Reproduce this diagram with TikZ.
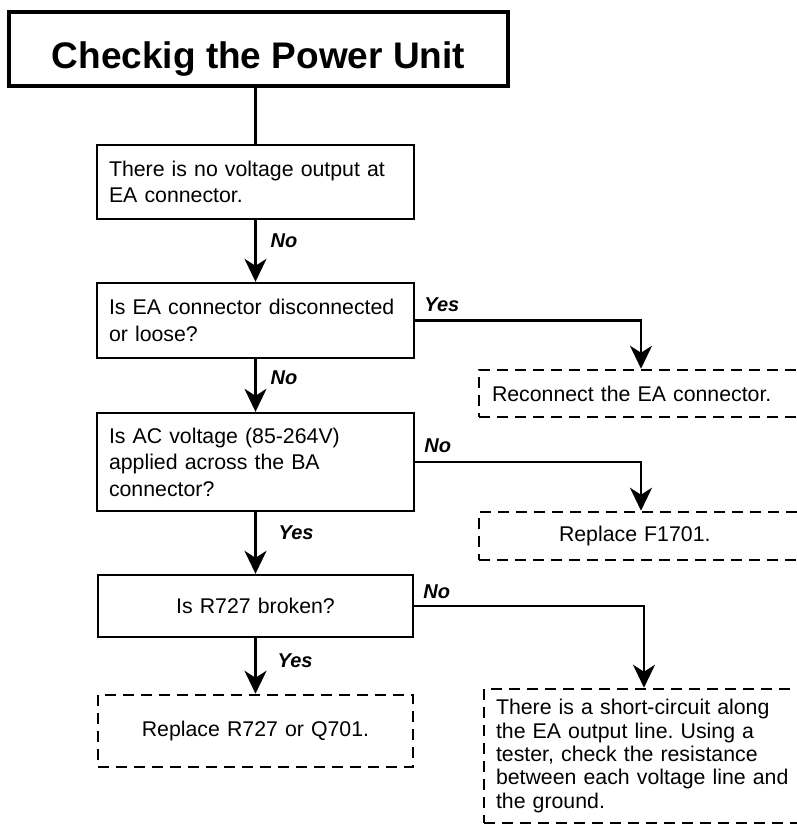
\documentclass[tikz,border=0pt]{standalone}
\usepackage{fontspec}
\setmainfont{Liberation Sans}
\usetikzlibrary{arrows.meta}
\frenchspacing

\begin{document}
\begin{tikzpicture}[
            x=1pt, y=-1pt,
            every node/.style={font=\fontsize{21.3}{26.5}\selectfont},
            titlebox/.style={draw, line width=4.5pt, minimum width=499pt, minimum height=74pt, inner sep=0pt,
                font=\fontsize{37}{44}\selectfont\bfseries, text height=38pt, text depth=0pt},
            testbox/.style={draw, line width=2.4pt, minimum width=317pt, inner xsep=11pt, inner ysep=0pt,
                text width=293pt, align=left},
            fixbox/.style={draw, dashed, dash pattern=on 11pt off 7pt, line width=2.5pt, inner ysep=0pt},
            arrow/.style={-{Stealth[length=23pt, width=22pt, inset=7pt]}, line width=2.4pt},
            lbl/.style={font=\fontsize{20}{24}\selectfont\bfseries\itshape, anchor=west, inner sep=0pt, xshift=14pt},
            blbl/.style={font=\fontsize{20}{24}\selectfont\bfseries\itshape, anchor=south west, inner sep=0pt, xshift=8pt, yshift=8pt}
        ]
        \clip (0,0) rectangle (797,825);

        % Title and the checks down the left
        \node[titlebox] (title) at (258.5,49) {Checkig the Power Unit};
        \node[testbox, minimum height=74pt] (no_out) at (255.5,182) {There is no voltage output at\\EA connector.};
        \node[testbox, minimum height=75pt] (ea_loose) at (255.5,320.5) {Is EA connector disconnected\\or loose?};
        \node[testbox, minimum height=98pt] (ac_in) at (255.5,462) {Is AC voltage (85-264V)\\applied across the BA\\connector?};
        \node[testbox, minimum width=313pt, minimum height=62pt, align=center] (r727) at (255.5,606) {Is R727 broken?};

        % Remedies (dashed)
        \node[fixbox, minimum width=324pt, minimum height=47pt, inner xsep=13pt, text width=298pt, align=left] (reconnect) at (641,393.5) {Reconnect the EA connector.};
        \node[fixbox, minimum width=324pt, minimum height=48pt, inner xsep=80pt, text width=164pt, align=left] (fuse) at (641,536) {Replace F1701.};
        \node[fixbox, minimum width=315pt, minimum height=72pt, inner xsep=10pt, text width=295pt, align=center] (swap_r727) at (255.5,731) {Replace R727 or Q701.};
        \node[fixbox, minimum width=320pt, minimum height=134pt, inner xsep=12pt, text width=296pt, align=left,
            font=\fontsize{21.3}{23.3}\selectfont] (short) at (644,756) {There is a short-circuit along\\the EA output line. Using a\\tester, check the resistance\\between each voltage line and\\the ground.};

        % Main line
        \draw[line width=2.4pt] (no_out.north |- title.south) -- (no_out.north);
        \draw[arrow] (no_out.south) -- node[lbl, pos=0.33] {No} (ea_loose.north);
        \draw[arrow] (ea_loose.south) -- node[lbl, pos=0.35] {No} (ac_in.north);
        \draw[arrow] (ac_in.south) -- node[lbl, pos=0.33, xshift=8pt] {Yes} (r727.north);
        \draw[arrow] (r727.south) -- node[lbl, pos=0.4, xshift=7pt] {Yes} (swap_r727.north);

        % Branches to the right
        \draw[arrow] (ea_loose.east) node[blbl] {Yes} -| (reconnect.north);
        \draw[arrow] (ac_in.east) node[blbl] {No} -| (fuse.north);
        \draw[arrow] (r727.east) node[blbl, yshift=-2pt] {No} -| (short.north);

    \end{tikzpicture}
\end{document}
